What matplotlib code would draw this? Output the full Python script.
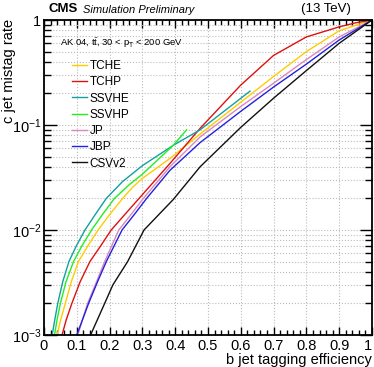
import numpy as np
import matplotlib
matplotlib.use("Agg")
import matplotlib.pyplot as plt
import matplotlib.ticker as ticker

plt.rcParams['font.family'] = ['Liberation Sans', 'DejaVu Sans']
plt.rcParams['mathtext.fontset'] = 'custom'
plt.rcParams['mathtext.rm'] = 'Liberation Sans'
plt.rcParams['mathtext.it'] = 'Liberation Sans:italic'

# b efficiency / c mistag points
tche_x = [0.04, 0.051, 0.065, 0.083, 0.105, 0.133, 0.165, 0.20, 0.24, 0.27, 0.30, 0.384, 0.476, 0.60, 0.70, 0.80, 0.90, 1.0]
tche_y = [1e-3, 1.4e-3, 2e-3, 3.2e-3, 5e-3, 7e-3, 1e-2, 1.4e-2, 2e-2, 0.0255, 0.031, 0.048, 0.082, 0.165, 0.29, 0.50, 0.79, 1.0]

tchp_x = [0.055, 0.068, 0.085, 0.11, 0.14, 0.172, 0.205, 0.246, 0.29, 0.384, 0.476, 0.60, 0.70, 0.80, 0.90, 0.95, 1.0]
tchp_y = [1e-3, 1.4e-3, 2e-3, 3.2e-3, 5e-3, 7e-3, 1e-2, 1.4e-2, 2e-2, 0.043, 0.093, 0.24, 0.46, 0.69, 0.86, 0.94, 1.0]

ssvhe_x = [0.025, 0.033, 0.042, 0.057, 0.076, 0.098, 0.125, 0.156, 0.19, 0.24, 0.30, 0.394, 0.476, 0.628]
ssvhe_y = [1e-3, 1.4e-3, 2e-3, 3.2e-3, 5e-3, 7e-3, 1e-2, 1.4e-2, 2e-2, 0.029, 0.041, 0.064, 0.09, 0.21]

ssvhp_x = [0.032, 0.04, 0.05, 0.067, 0.09, 0.115, 0.145, 0.178, 0.215, 0.26, 0.30, 0.394, 0.435]
ssvhp_y = [1e-3, 1.4e-3, 2e-3, 3.2e-3, 5e-3, 7e-3, 1e-2, 1.4e-2, 2e-2, 0.027, 0.034, 0.064, 0.09]

jp_x = [0.103, 0.133, 0.16, 0.185, 0.228, 0.265, 0.303, 0.384, 0.476, 0.60, 0.70, 0.80, 0.90, 1.0]
jp_y = [1e-3, 2e-3, 3.2e-3, 5e-3, 1e-2, 1.4e-2, 2e-2, 0.040, 0.077, 0.15, 0.25, 0.42, 0.69, 1.0]

jbp_x = [0.10, 0.136, 0.163, 0.19, 0.238, 0.275, 0.313, 0.384, 0.476, 0.60, 0.70, 0.80, 0.90, 1.0]
jbp_y = [1e-3, 2e-3, 3.2e-3, 5e-3, 1e-2, 1.4e-2, 2e-2, 0.037, 0.068, 0.135, 0.23, 0.38, 0.645, 1.0]

csv_x = [0.142, 0.185, 0.21, 0.255, 0.305, 0.394, 0.476, 0.60, 0.70, 0.80, 0.90, 1.0]
csv_y = [1e-3, 2e-3, 3e-3, 5e-3, 1e-2, 0.0195, 0.040, 0.095, 0.18, 0.33, 0.60, 1.0]

curves = [
    ('TCHE', tche_x, tche_y, '#ffcc00'),
    ('TCHP', tchp_x, tchp_y, '#dd1111'),
    ('SSVHE', ssvhe_x, ssvhe_y, '#11a0a0'),
    ('SSVHP', ssvhp_x, ssvhp_y, '#22ee22'),
    ('JP', jp_x, jp_y, '#d888c0'),
    ('JBP', jbp_x, jbp_y, '#2222dd'),
    ('CSVv2', csv_x, csv_y, '#111111'),
]

fig = plt.figure(figsize=(3.74, 3.67), dpi=100)
ax = fig.add_axes([0.1176, 0.0872, 0.877, 0.8583])

for name, xs, ys, c in curves:
    ax.plot(xs, ys, color=c, lw=1.0, label=name)

ax.set_yscale('log')
ax.set_xlim(0, 1)
ax.set_ylim(1e-3, 1)

ax.xaxis.set_major_locator(ticker.MultipleLocator(0.1))
ax.xaxis.set_minor_locator(ticker.MultipleLocator(0.02))
ax.xaxis.set_major_formatter(ticker.FuncFormatter(lambda v, p: '%g' % round(v, 1)))
ax.yaxis.set_major_locator(ticker.LogLocator(base=10))
ax.yaxis.set_minor_locator(ticker.LogLocator(base=10, subs=np.arange(2, 10)))
ax.yaxis.set_minor_formatter(ticker.NullFormatter())

def ylab(v, p):
    e = int(round(np.log10(v)))
    if e == 0:
        return '1'
    return r'$\mathregular{10^{%d}}$' % e

ax.yaxis.set_major_formatter(ticker.FuncFormatter(ylab))

ax.tick_params(which='both', direction='in', top=True, right=True, labelsize=10.5, width=1)
ax.tick_params(axis='y', which='major', length=9)
ax.tick_params(axis='y', which='minor', length=5)
ax.tick_params(axis='x', which='major', length=6, pad=3)
ax.tick_params(axis='x', which='minor', length=3.5)
ax.tick_params(axis='y', pad=2)

ax.grid(which='major', axis='x', color='#bbbbbb', linestyle=':', lw=0.8)
ax.grid(which='both', axis='y', color='#bbbbbb', linestyle=':', lw=0.8)
ax.set_axisbelow(True)
for s in ax.spines.values():
    s.set_linewidth(1.3)

ax.set_xlabel('b jet tagging efficiency', fontsize=10.5, loc='right', labelpad=0)
fig.text(2 / 374, 1 - 19 / 367, 'c jet mistag rate', fontsize=10.5, rotation=90,
         ha='left', va='top')

fig.text(0.131, 0.958, 'CMS', fontsize=9.5, weight='bold', va='bottom')
fig.text(0.222, 0.958, 'Simulation Preliminary', fontsize=8, style='italic', va='bottom')
fig.text(0.9385, 0.958, '(13 TeV)', fontsize=9.5, ha='right', va='bottom')

ax.text(0.05, 0.928, r'AK 04, $\mathregular{t\bar{t}}$, 30 < $\mathregular{p_T}$ < 200 GeV',
        transform=ax.transAxes, fontsize=6.8, va='center')

ax.legend(loc='upper left', bbox_to_anchor=(0.085, 0.873), frameon=False, fontsize=8.5,
          handlelength=1.3, handletextpad=0.2, labelspacing=0.36, borderaxespad=0,
          borderpad=0)

# keep the last x tick label inside the canvas
fig.canvas.draw()
for t in ax.get_xticklabels():
    if t.get_text() == '1':
        t.set_ha('right')

fig.savefig('out.png', dpi=100)
